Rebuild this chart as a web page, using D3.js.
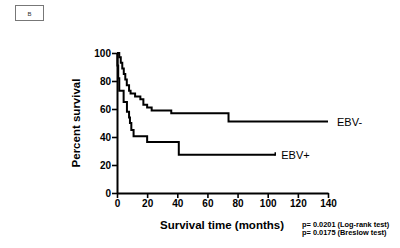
<!DOCTYPE html>
<html>
<head>
<meta charset="utf-8">
<script src="https://cdn.jsdelivr.net/npm/d3@7"></script>
<style>
  body { margin: 0; background: #fff; }
  svg { display: block; font-family: "Liberation Sans", Arial, sans-serif; }
</style>
</head>
<body>
<div id="chart"></div>
<script>
// survival steps: [months, percent]
const ebvNeg = [[0,100],[1.5,97],[2.5,93],[3.5,89],[4.5,85],[5.5,81],[6.5,77],[8,73],[9,71],[12,69],[15.5,67],[17.5,63],[20,61],[23,59],[36,57],[74,51]];
const ebvNegEnd = 140;
const ebvPos = [[0,100],[0.3,91],[0.8,82],[1.5,73],[4.4,65],[6.6,58],[8,54],[8.6,50],[9.5,45],[11,40.5],[20,36.5],[41,27.3]];
const ebvPosEnd = 105;
const seriesNames = ['EBV-', 'EBV+'];
const xTicks = [0, 20, 40, 60, 80, 100, 120, 140];
const yTicks = [0, 20, 40, 60, 80, 100];
const pValues = ['p= 0.0201 (Log-rank test)', 'p= 0.0175 (Breslow test)'];

const W = 400, H = 248;
const svg = d3.select('#chart').append('svg').attr('width', W).attr('height', H);

const x = d3.scaleLinear().domain([0, 140]).range([117, 328]);
const y = d3.scaleLinear().domain([0, 100]).range([193, 53]);

// panel label box
svg.append('rect').attr('x', 15.5).attr('y', 5.5).attr('width', 28).attr('height', 15)
    .attr('fill', '#fff').attr('stroke', '#777').attr('stroke-width', 1);
svg.append('text').attr('x', 29.5).attr('y', 15.5).attr('text-anchor', 'middle')
    .attr('font-size', 6).attr('fill', '#333').text('B');

// axes
const xAxis = svg.append('g').attr('transform', `translate(0,${y(0)})`)
    .call(d3.axisBottom(x).tickValues(xTicks).tickSize(5).tickPadding(2).tickSizeOuter(0));
const yAxis = svg.append('g').attr('transform', `translate(${x(0)},0)`)
    .call(d3.axisLeft(y).tickValues(yTicks).tickSize(5).tickPadding(1).tickSizeOuter(0));
[xAxis, yAxis].forEach(g => {
    g.select('.domain').attr('stroke', '#000').attr('stroke-width', 2);
    g.selectAll('.tick line').attr('stroke', '#000').attr('stroke-width', 1.6);
    g.selectAll('.tick text').attr('fill', '#000').attr('font-size', 10)
        .attr('font-weight', 'bold').attr('font-family', '"Liberation Sans", Arial, sans-serif');
});

// step lines
const line = d3.line().x(d => x(d[0])).y(d => y(d[1])).curve(d3.curveStepAfter);
function drawCurve(pts, end) {
    const data = pts.concat([[end, pts[pts.length - 1][1]]]);
    svg.append('path').datum(data).attr('d', line)
        .attr('fill', 'none').attr('stroke', '#000').attr('stroke-width', 2);
}
drawCurve(ebvNeg, ebvNegEnd);
drawCurve(ebvPos, ebvPosEnd);

// censor tick at end of EBV+
const lastPos = ebvPos[ebvPos.length - 1][1];
svg.append('line').attr('x1', x(ebvPosEnd)).attr('x2', x(ebvPosEnd))
    .attr('y1', y(lastPos) - 2.5).attr('y2', y(lastPos) + 1)
    .attr('stroke', '#000').attr('stroke-width', 1.5);

// series labels
svg.append('text').attr('x', x(ebvNegEnd) + 9).attr('y', y(ebvNeg[ebvNeg.length - 1][1]) + 4)
    .attr('font-size', 11).text(seriesNames[0]);
svg.append('text').attr('x', x(ebvPosEnd) + 6).attr('y', y(lastPos) + 4)
    .attr('font-size', 11).text(seriesNames[1]);

// axis titles
svg.append('text').attr('x', 222).attr('y', 229).attr('text-anchor', 'middle')
    .attr('font-size', 11.5).attr('font-weight', 'bold').text('Survival time (months)');
svg.append('text').attr('transform', `translate(80,${(y(0) + y(100)) / 2}) rotate(-90)`)
    .attr('text-anchor', 'middle').attr('font-size', 11.5).attr('font-weight', 'bold')
    .text('Percent survival');

// p-values
pValues.forEach((t, i) => {
    svg.append('text').attr('x', 302).attr('y', 226.5 + i * 8.5)
        .attr('font-size', 7.4).attr('font-weight', 'bold').text(t);
});
</script>
</body>
</html>
